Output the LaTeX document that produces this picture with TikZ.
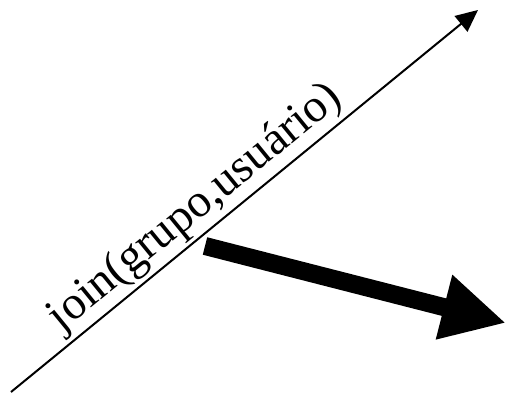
\documentclass[tikz,border=0pt]{standalone}
\usepackage{fontspec}
\setmainfont{Liberation Serif}
\usetikzlibrary{
  arrows.meta,
  positioning,
  calc
}
\tikzset{
  joinline/.style={
    -{Triangle[length=22pt,width=20pt]},
    draw=black, line width=2pt
  },
  bigarrow/.style={
    -{Triangle[length=64pt,width=62pt]},
    draw=black, line width=18pt
  },
  joinlabel/.style={
    font=\fontsize{47pt}{50pt}\selectfont,
    inner sep=3pt
  },
}

\begin{document}
\begin{tikzpicture}[x=1pt,y=-1pt]

  \useasboundingbox (0,0) rectangle (506,395);

  %% End points
  \coordinate (ls) at (11,392);
  \coordinate (le) at (478,10);
  \coordinate (as) at (205,246);
  \coordinate (ae) at (506,323);

  %% Thin line with its label
  \draw[joinline] (ls) -- (le)
    node[joinlabel, sloped, above, pos=0.43] (lbl) {join(grupo,usuário)};

  %% Thick arrow
  \draw[bigarrow] (as) -- (ae);

\end{tikzpicture}
\end{document}
